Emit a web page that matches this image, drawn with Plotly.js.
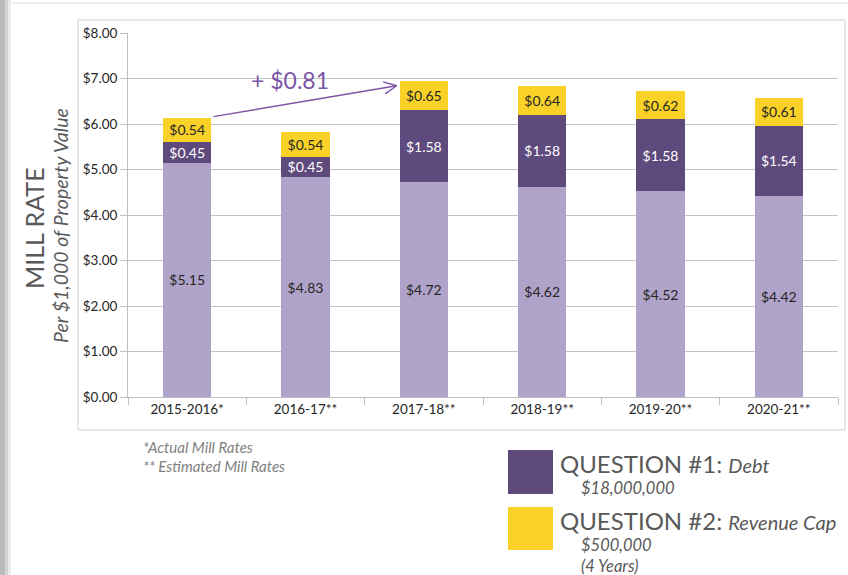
<!DOCTYPE html>
<html>
<head>
<meta charset="utf-8">
<script src="https://cdn.plot.ly/plotly-3.0.1.min.js"></script>
<style>html,body{margin:0;padding:0;background:#fff;}#chart{width:848px;height:575px;}</style>
</head>
<body>
<div id="chart"></div>
<script>
// ---- data ----
const years = ["2015-2016*", "2016-17**", "2017-18**", "2018-19**", "2019-20**", "2020-21**"];
const baseRate = [5.15, 4.83, 4.72, 4.62, 4.52, 4.42];
const debtRate = [0.45, 0.45, 1.58, 1.58, 1.58, 1.54];
const capRate  = [0.54, 0.54, 0.65, 0.64, 0.62, 0.61];
const seriesNames = ["Base Mill Rate", "QUESTION #1: Debt", "QUESTION #2: Revenue Cap"];

const colors = {base: "#b0a3c9", debt: "#5e4a7c", cap: "#fad126"};
const FONT = "Lato, 'Open Sans', sans-serif";

// pixel layout of the plot area
const W = 848, H = 575, L = 128, R = 838, T = 33, B = 397;
const YMAX = 8;
const px = x => (x - L) / (R - L);
const py = y => (B - y) / (B - T);
const catW = (R - L) / years.length;
const xPix = i => L + (i + 0.5) * catW;        // category index -> pixel
const yPix = v => B - v / YMAX * (B - T);       // value -> pixel

function barTrace(vals, name, color, txtColor) {
  return {
    type: "bar", x: years, y: vals, name: name,
    marker: {color: color, line: {width: 0}},
    texttemplate: "$%{y:.2f}", textposition: "inside", insidetextanchor: "middle",
    textangle: 0, constraintext: "none",
    textfont: {family: FONT, size: 14, color: txtColor},
    hoverinfo: "y+name", showlegend: false
  };
}

const totals = years.map((_, i) => baseRate[i] + debtRate[i] + capRate[i]);
const diff = totals[2] - totals[0];
const barFrac = 0.41;
const halfBar = barFrac / 2;

const data = [
  barTrace(baseRate, seriesNames[0], colors.base, "#262626"),
  barTrace(debtRate, seriesNames[1], colors.debt, "#ffffff"),
  barTrace(capRate, seriesNames[2], colors.cap, "#262626")
];

// arrow from top of first bar to top of third bar (pixel geometry)
const arrowColor = "#7b55a5";
const tx = xPix(0) + halfBar * catW + 2, ty = yPix(totals[0]) - 1;
const hx = xPix(2) - halfBar * catW - 3, hy = yPix(totals[2]) + 5;
const ang = Math.atan2(hy - ty, hx - tx);
const armLen = 14, armAng = 0.45;
function seg(x0, y0, x1, y1) {
  return {type: "line", xref: "paper", yref: "paper", x0: px(x0), y0: py(y0), x1: px(x1), y1: py(y1),
          line: {color: arrowColor, width: 1.4}};
}
const arrowShapes = [
  seg(tx, ty, hx, hy),
  seg(hx, hy, hx - armLen * Math.cos(ang - armAng), hy - armLen * Math.sin(ang - armAng)),
  seg(hx, hy, hx - armLen * Math.cos(ang + armAng), hy - armLen * Math.sin(ang + armAng))
];

const gray = "#595959";
const layout = {
  width: W, height: H,
  margin: {l: L, r: W - R, t: T, b: H - B},
  paper_bgcolor: "#fff", plot_bgcolor: "#fff",
  barmode: "stack", bargap: 1 - barFrac,
  font: {family: FONT, color: "#262626"},
  showlegend: false,
  xaxis: {
    type: "category", showgrid: false, zeroline: false,
    showline: true, linecolor: "#bfbfbf", linewidth: 1,
    ticks: "outside", tickson: "boundaries", ticklen: 7, tickcolor: "#bfbfbf",
    tickfont: {family: FONT, size: 13.5, color: "#262626"}
  },
  yaxis: {
    range: [0, YMAX], dtick: 1, tickformat: "$.2f",
    showgrid: true, gridcolor: "#c3c3c3", gridwidth: 1, zeroline: false,
    showline: true, linecolor: "#bfbfbf", linewidth: 1,
    ticks: "outside", ticklen: 7, tickcolor: "#bfbfbf",
    tickfont: {family: FONT, size: 13.5, color: "#262626"}
  },
  shapes: [
    // chart frame
    {type: "rect", xref: "paper", yref: "paper", x0: px(78), x1: px(845), y0: py(430), y1: py(20),
     line: {color: "#d0d0d0", width: 1}, fillcolor: "rgba(0,0,0,0)", layer: "below"},
    // top faint line
    {type: "line", xref: "paper", yref: "paper", x0: px(6), x1: px(848), y0: py(3), y1: py(3),
     line: {color: "#efefef", width: 2}, layer: "below"},
    // left shadow strip
    {type: "rect", xref: "paper", yref: "paper", x0: px(0), x1: px(5), y0: py(575), y1: py(0),
     line: {width: 0}, fillcolor: "#bababa", layer: "below"},
    {type: "rect", xref: "paper", yref: "paper", x0: px(5), x1: px(8), y0: py(575), y1: py(0),
     line: {width: 0}, fillcolor: "#d2d2d2", layer: "below"},
    {type: "rect", xref: "paper", yref: "paper", x0: px(8), x1: px(11), y0: py(575), y1: py(0),
     line: {width: 0}, fillcolor: "#ebebeb", layer: "below"},
    // legend swatches
    {type: "rect", xref: "paper", yref: "paper", x0: px(508), x1: px(553), y0: py(494), y1: py(450),
     line: {width: 0}, fillcolor: colors.debt},
    {type: "rect", xref: "paper", yref: "paper", x0: px(508), x1: px(553), y0: py(550), y1: py(507),
     line: {width: 0}, fillcolor: colors.cap}
  ].concat(arrowShapes),
  annotations: [
    // axis titles
    {xref: "paper", yref: "paper", x: px(34), y: py(228), xanchor: "center", yanchor: "middle",
     text: "MILL RATE", textangle: -90,
     showarrow: false, font: {family: FONT, size: 25, color: gray}},
    {xref: "paper", yref: "paper", x: px(60), y: py(226), xanchor: "center", yanchor: "middle",
     text: "<i>Per $1,000 of Property Value</i>", textangle: -90,
     showarrow: false, font: {family: FONT, size: 19.5, color: gray}},
    // difference label
    {x: 0.87, y: totals[0] + 0.83, xref: "x", yref: "y", text: "+ $" + diff.toFixed(2), showarrow: false,
     font: {family: FONT, size: 23, color: arrowColor}},
    // footnotes
    {xref: "paper", yref: "paper", x: px(141), y: py(447), xanchor: "left", yanchor: "middle",
     text: "<i>*Actual Mill Rates</i>", showarrow: false, font: {family: FONT, size: 15, color: "#7f7f7f"}},
    {xref: "paper", yref: "paper", x: px(141), y: py(466), xanchor: "left", yanchor: "middle",
     text: "<i>** Estimated Mill Rates</i>", showarrow: false, font: {family: FONT, size: 15, color: "#7f7f7f"}},
    // legend text
    {xref: "paper", yref: "paper", x: px(558), y: py(463), xanchor: "left", yanchor: "middle",
     text: "QUESTION #1: <i><span style='font-size:20px'>Debt</span></i>", showarrow: false,
     font: {family: FONT, size: 24, color: gray}},
    {xref: "paper", yref: "paper", x: px(579), y: py(488), xanchor: "left", yanchor: "middle",
     text: "<i>$18,000,000</i>", showarrow: false, font: {family: FONT, size: 16.5, color: gray}},
    {xref: "paper", yref: "paper", x: px(558), y: py(520), xanchor: "left", yanchor: "middle",
     text: "QUESTION #2: <i><span style='font-size:20px'>Revenue Cap</span></i>", showarrow: false,
     font: {family: FONT, size: 24, color: gray}},
    {xref: "paper", yref: "paper", x: px(579), y: py(545), xanchor: "left", yanchor: "middle",
     text: "<i>$500,000</i>", showarrow: false, font: {family: FONT, size: 16.5, color: gray}},
    {xref: "paper", yref: "paper", x: px(579), y: py(566), xanchor: "left", yanchor: "middle",
     text: "<i>(4 Years)</i>", showarrow: false, font: {family: FONT, size: 16.5, color: gray}}
  ]
};

Plotly.newPlot("chart", data, layout, {displayModeBar: false, staticPlot: true});
</script>
</body>
</html>
